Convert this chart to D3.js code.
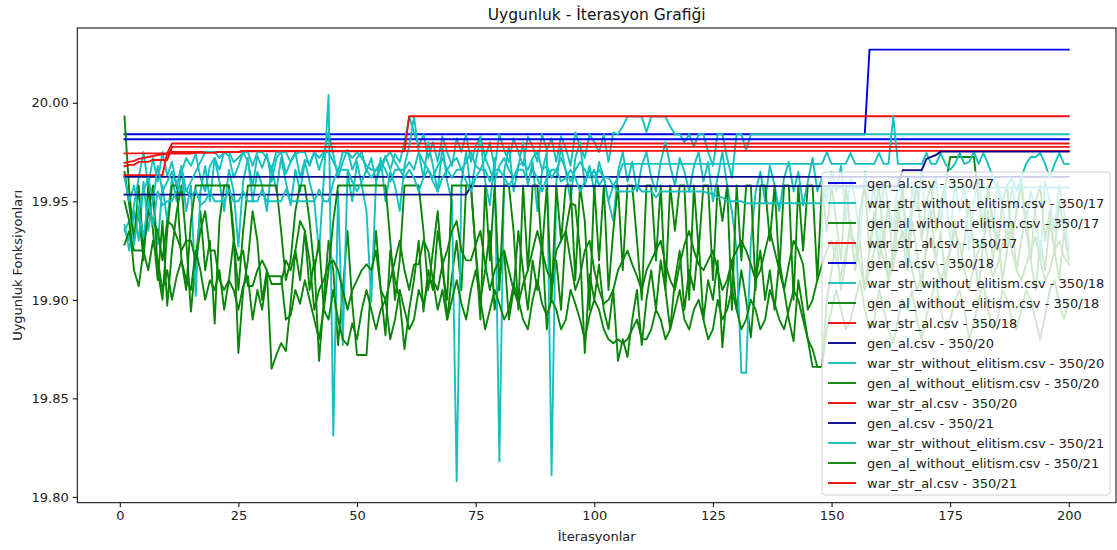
<!DOCTYPE html>
<html>
<head>
<meta charset="utf-8">
<script src="https://cdn.jsdelivr.net/npm/d3@7"></script>
<style>
  html, body { margin: 0; padding: 0; background: #fff; overflow: hidden; }
  svg { display: block; font-family: "DejaVu Sans", sans-serif; }
</style>
</head>
<body>
<div id="chart"></div>
<script>
// step series as [value, count] runs
const genAl17Runs = [[19.984, 157], [20.027, 43]];
const genAl18Runs = [[19.9815, 200]];
const genAl20Runs = [[19.9624, 200]];
const genAl21Runs = [[19.9534, 73], [19.9577, 91], [19.9658, 5], [19.9715, 1], [19.9725, 1], [19.9735, 1], [19.9752, 28]];

const warStrAl17Runs = [[19.9743, 10], [19.9793, 190]];
const warStrAl18Runs = [[19.9632, 9], [19.9745, 1], [19.9750, 15], [19.9754, 35], [19.9932, 140]];
const warStrAl20Runs = [[19.9695, 1], [19.9700, 1], [19.9705, 1], [19.9715, 1], [19.9720, 1], [19.9725, 1], [19.9730, 1],
  [19.9735, 1], [19.9738, 1], [19.9740, 1], [19.9742, 5], [19.9746, 5], [19.9750, 5], [19.9756, 175]];
const warStrAl21Runs = [[19.9678, 1], [19.9685, 2], [19.9700, 3], [19.9710, 4], [19.9776, 190]];

const warStrWo17 = [
  19.936,19.930,19.948,19.962,19.975,19.958,19.972,19.960,19.975,19.963,
  19.970,19.958,19.965,19.972,19.968,19.974,19.962,19.955,19.968,19.972,
  19.966,19.975,19.973,19.962,19.968,19.975,19.970,19.958,19.973,19.967,
  19.974,19.960,19.972,19.975,19.964,19.970,19.975,19.962,19.971,19.969,
  19.975,19.966,19.974,19.985,19.974,19.962,19.970,19.976,19.966,19.972,
  19.975,19.965,19.972,19.960,19.968,19.973,19.966,19.974,19.970,19.980,
  19.993,19.985,19.978,19.984,19.972,19.980,19.970,19.983,19.975,19.968,
  19.982,19.975,19.984,19.970,19.978,19.983,19.972,19.980,19.967,19.984,
  19.976,19.970,19.982,19.975,19.968,19.983,19.978,19.970,19.984,19.976,
  19.982,19.970,19.983,19.977,19.968,19.985,19.978,19.972,19.984,19.980,
  19.975,19.984,19.970,19.985,19.984,19.988,19.993,19.993,19.993,19.993,
  19.985,19.993,19.993,19.993,19.993,19.988,19.984,19.984,19.980,19.984,
  19.978,19.984,19.984,19.975,19.968,19.984,19.984,19.972,19.962,19.984,
  19.984,19.976,19.984,19.984,19.984,19.984,19.984,19.984,19.984,19.984,
  19.984,19.984,19.984,19.984,19.984,19.984,19.984,19.984,19.984,19.984,
  19.984,19.984,19.984,19.984,19.984,19.984,19.984,19.984,19.984,19.984,
  19.984,19.984,19.984,19.984,19.984,19.984,19.984,19.984,19.984,19.984,
  19.984,19.984,19.984,19.984,19.984,19.984,19.984,19.984,19.984,19.984,
  19.984,19.984,19.984,19.984,19.984,19.984,19.984,19.984,19.984,19.984,
  19.984,19.984,19.984,19.984,19.984,19.984,19.984,19.984,19.984,19.984
];

const warStrWo18 = [
  19.938,19.925,19.945,19.930,19.960,19.935,19.952,19.928,19.958,19.940,
  19.962,19.950,19.966,19.945,19.958,19.902,19.955,19.968,19.950,19.972,
  19.960,19.945,19.966,19.955,19.927,19.960,19.972,19.950,19.965,19.958,
  19.945,19.968,19.955,19.972,19.960,19.948,19.966,19.955,19.970,19.960,
  19.950,19.924,19.962,20.004,19.831,19.955,19.877,19.965,19.950,19.970,
  19.958,19.945,19.899,19.960,19.972,19.950,19.965,19.958,19.945,19.968,
  19.978,19.993,19.975,19.962,19.980,19.968,19.955,19.978,19.960,19.950,
  19.808,19.960,19.975,19.955,19.970,19.982,19.960,19.948,19.972,19.818,
  19.965,19.978,19.955,19.968,19.980,19.958,19.970,19.945,19.965,19.975,
  19.811,19.960,19.978,19.965,19.950,19.972,19.980,19.958,19.968,19.955,
  19.970,19.962,19.950,19.940,19.965,19.975,19.960,19.970,19.955,19.968,
  19.975,19.962,19.955,19.970,19.980,19.968,19.958,19.972,19.965,19.955,
  19.968,19.975,19.960,19.970,19.950,19.962,19.975,19.958,19.945,19.925,
  19.863,19.863,19.930,19.955,19.965,19.950,19.968,19.958,19.945,19.962,
  19.970,19.955,19.965,19.948,19.960,19.972,19.955,19.962,19.950,19.965,
  19.955,19.968,19.940,19.962,19.950,19.930,19.965,19.945,19.958,19.925,
  19.960,19.948,19.935,19.962,19.950,19.920,19.958,19.945,19.965,19.935,
  19.950,19.962,19.940,19.955,19.930,19.960,19.945,19.958,19.925,19.950,
  19.962,19.940,19.955,19.935,19.960,19.948,19.930,19.958,19.945,19.962,
  19.938,19.955,19.945,19.920,19.960,19.950,19.935,19.958,19.945,19.925
];

const warStrWo20 = [
  19.962,19.950,19.958,19.945,19.955,19.962,19.950,19.968,19.955,19.960,
  19.965,19.958,19.968,19.955,19.960,19.965,19.970,19.975,19.975,19.975,
  19.972,19.975,19.975,19.970,19.972,19.975,19.975,19.968,19.975,19.975,
  19.972,19.966,19.975,19.975,19.975,19.970,19.974,19.975,19.975,19.968,
  19.975,19.972,19.975,19.975,19.970,19.965,19.975,19.975,19.972,19.975,
  19.972,19.968,19.966,19.966,19.966,19.972,19.975,19.970,19.966,19.966,
  19.970,19.966,19.975,19.970,19.966,19.962,19.968,19.972,19.966,19.970,
  19.972,19.966,19.970,19.975,19.968,19.966,19.972,19.966,19.960,19.968,
  19.972,19.966,19.962,19.968,19.970,19.966,19.972,19.975,19.966,19.968,
  19.962,19.966,19.972,19.966,19.960,19.966,19.970,19.966,19.962,19.966,
  19.958,19.962,19.950,19.958,19.962,19.969,19.969,19.969,19.969,19.969,
  19.969,19.969,19.969,19.969,19.969,19.969,19.969,19.969,19.969,19.969,
  19.969,19.969,19.969,19.969,19.969,19.969,19.969,19.969,19.969,19.969,
  19.969,19.969,19.969,19.969,19.969,19.969,19.969,19.969,19.969,19.969,
  19.969,19.969,19.969,19.969,19.969,19.969,19.969,19.969,19.975,19.969,
  19.969,19.969,19.969,19.9745,19.969,19.969,19.969,19.969,19.969,19.9745,
  19.969,19.969,19.993,19.969,19.969,19.969,19.969,19.969,19.969,19.9745,
  19.969,19.969,19.9745,19.969,19.966,19.969,19.9745,19.969,19.970,19.975,
  19.969,19.9745,19.969,19.962,19.955,19.950,19.958,19.962,19.955,19.962,
  19.969,19.9725,19.9725,19.9745,19.969,19.962,19.969,19.9745,19.969,19.969
];

const warStrWo21 = [
  19.935,19.940,19.928,19.945,19.932,19.950,19.938,19.955,19.948,19.950,
  19.950,19.956,19.956,19.956,19.952,19.956,19.948,19.950,19.955,19.950,
  19.950,19.950,19.956,19.950,19.950,19.955,19.950,19.950,19.950,19.956,
  19.950,19.950,19.950,19.950,19.956,19.950,19.950,19.950,19.950,19.950,
  19.950,19.956,19.950,19.950,19.960,19.966,19.966,19.966,19.960,19.955,
  19.960,19.966,19.962,19.966,19.970,19.966,19.960,19.966,19.966,19.962,
  19.966,19.962,19.955,19.962,19.966,19.960,19.955,19.962,19.966,19.962,
  19.966,19.966,19.960,19.955,19.962,19.966,19.966,19.960,19.966,19.966,
  19.962,19.958,19.962,19.966,19.966,19.960,19.966,19.962,19.955,19.962,
  19.966,19.966,19.960,19.962,19.966,19.962,19.955,19.960,19.966,19.962,
  19.966,19.962,19.962,19.958,19.955,19.955,19.955,19.955,19.958,19.955,
  19.955,19.955,19.952,19.955,19.955,19.955,19.955,19.955,19.955,19.955,
  19.955,19.955,19.955,19.954,19.954,19.952,19.952,19.950,19.950,19.950,
  19.950,19.949,19.949,19.949,19.949,19.949,19.949,19.949,19.949,19.949,
  19.949,19.949,19.949,19.949,19.949,19.949,19.949,19.949,19.957,19.957,
  19.957,19.957,19.957,19.957,19.957,19.957,19.957,19.957,19.957,19.957,
  19.957,19.957,19.957,19.957,19.957,19.957,19.957,19.957,19.957,19.957,
  19.957,19.957,19.957,19.957,19.957,19.957,19.957,19.957,19.957,19.957,
  19.957,19.957,19.957,19.957,19.957,19.957,19.957,19.957,19.957,19.957,
  19.957,19.957,19.957,19.957,19.957,19.957,19.957,19.957,19.957,19.957
];

const genAlWo17 = [
  19.993,19.955,19.930,19.945,19.920,19.958,19.935,19.910,19.940,19.897,
  19.925,19.945,19.958,19.930,19.894,19.920,19.945,19.915,19.930,19.888,
  19.940,19.958,19.958,19.935,19.873,19.905,19.920,19.945,19.930,19.900,
  19.915,19.865,19.872,19.878,19.874,19.898,19.925,19.910,19.935,19.905,
  19.920,19.869,19.900,19.930,19.915,19.877,19.905,19.935,19.898,19.872,
  19.872,19.872,19.910,19.935,19.905,19.882,19.925,19.910,19.900,19.875,
  19.895,19.910,19.930,19.894,19.915,19.905,19.935,19.920,19.890,19.912,
  19.930,19.905,19.958,19.958,19.925,19.900,19.915,19.935,19.895,19.910,
  19.925,19.890,19.905,19.935,19.915,19.895,19.920,19.905,19.930,19.885,
  19.905,19.920,19.895,19.935,19.949,19.948,19.925,19.873,19.913,19.900,
  19.918,19.895,19.885,19.905,19.869,19.880,19.871,19.890,19.905,19.877,
  19.900,19.915,19.895,19.920,19.905,19.885,19.910,19.925,19.895,19.915,
  19.905,19.930,19.890,19.910,19.900,19.920,19.876,19.905,19.920,19.895,
  19.915,19.900,19.881,19.910,19.925,19.900,19.915,19.895,19.920,19.905,
  19.890,19.879,19.910,19.895,19.880,19.866,19.866,19.866,19.900,19.915,
  19.930,19.905,19.920,19.940,19.915,19.930,19.905,19.925,19.945,19.920,
  19.935,19.910,19.925,19.950,19.930,19.915,19.940,19.925,19.905,19.930,
  19.945,19.920,19.935,19.910,19.925,19.940,19.915,19.930,19.950,19.925,
  19.905,19.930,19.945,19.920,19.935,19.910,19.925,19.940,19.915,19.930,
  19.945,19.920,19.905,19.930,19.915,19.940,19.925,19.910,19.935,19.920
];

const genAlWo18 = [
  19.965,19.948,19.930,19.958,19.925,19.945,19.958,19.915,19.900,19.935,
  19.958,19.958,19.920,19.905,19.940,19.958,19.958,19.958,19.958,19.958,
  19.958,19.958,19.958,19.930,19.905,19.935,19.958,19.958,19.958,19.958,
  19.958,19.958,19.958,19.935,19.910,19.920,19.945,19.958,19.958,19.940,
  19.915,19.930,19.895,19.915,19.940,19.958,19.958,19.958,19.958,19.958,
  19.958,19.958,19.958,19.958,19.958,19.958,19.930,19.900,19.920,19.958,
  19.958,19.958,19.958,19.935,19.905,19.925,19.945,19.915,19.900,19.958,
  19.958,19.958,19.958,19.958,19.925,19.890,19.958,19.920,19.958,19.905,
  19.958,19.958,19.935,19.895,19.958,19.915,19.958,19.958,19.925,19.958,
  19.900,19.958,19.930,19.958,19.958,19.910,19.958,19.940,19.895,19.958,
  19.920,19.958,19.905,19.935,19.958,19.915,19.958,19.958,19.930,19.900,
  19.958,19.958,19.920,19.958,19.905,19.958,19.935,19.958,19.958,19.900,
  19.958,19.925,19.958,19.958,19.910,19.958,19.940,19.958,19.895,19.958,
  19.920,19.958,19.958,19.905,19.958,19.958,19.930,19.958,19.915,19.958,
  19.958,19.900,19.958,19.925,19.958,19.958,19.910,19.958,19.935,19.958,
  19.940,19.920,19.958,19.935,19.915,19.945,19.958,19.925,19.940,19.958,
  19.930,19.950,19.915,19.940,19.958,19.925,19.945,19.958,19.930,19.950,
  19.958,19.935,19.950,19.958,19.9725,19.9725,19.9725,19.9725,19.9725,19.9725,
  19.950,19.935,19.958,19.940,19.925,19.950,19.958,19.930,19.945,19.958,
  19.935,19.920,19.950,19.958,19.930,19.945,19.925,19.950,19.935,19.940
];

const genAlWo20 = [
  19.928,19.935,19.925,19.925,19.925,19.945,19.940,19.935,19.920,19.940,
  19.938,19.932,19.925,19.930,19.930,19.920,19.935,19.945,19.925,19.925,
  19.910,19.905,19.910,19.930,19.920,19.925,19.907,19.907,19.915,19.920,
  19.915,19.908,19.908,19.908,19.920,19.915,19.925,19.940,19.935,19.920,
  19.895,19.905,19.910,19.918,19.920,19.915,19.905,19.895,19.905,19.910,
  19.915,19.918,19.915,19.925,19.905,19.900,19.910,19.920,19.930,19.915,
  19.905,19.918,19.918,19.930,19.925,19.910,19.905,19.918,19.925,19.935,
  19.940,19.925,19.920,19.920,19.928,19.935,19.918,19.905,19.915,19.920,
  19.925,19.915,19.905,19.898,19.908,19.915,19.925,19.935,19.925,19.915,
  19.910,19.925,19.930,19.935,19.920,19.905,19.912,19.925,19.930,19.915,
  19.905,19.898,19.900,19.905,19.915,19.920,19.925,19.918,19.912,19.905,
  19.915,19.920,19.925,19.930,19.918,19.910,19.905,19.918,19.928,19.935,
  19.925,19.918,19.915,19.920,19.925,19.915,19.905,19.910,19.920,19.925,
  19.930,19.925,19.918,19.910,19.915,19.925,19.935,19.925,19.915,19.905,
  19.918,19.930,19.925,19.918,19.895,19.900,19.910,19.918,19.925,19.930,
  19.920,19.912,19.925,19.935,19.928,19.918,19.905,19.915,19.925,19.930,
  19.920,19.910,19.918,19.928,19.935,19.925,19.915,19.905,19.912,19.925,
  19.932,19.920,19.910,19.918,19.925,19.935,19.928,19.915,19.905,19.918,
  19.925,19.930,19.920,19.912,19.918,19.928,19.935,19.925,19.915,19.910,
  19.918,19.925,19.932,19.920,19.910,19.915,19.925,19.930,19.922,19.918
];

const genAlWo21 = [
  19.950,19.940,19.915,19.907,19.925,19.915,19.930,19.920,19.905,19.915,
  19.900,19.912,19.920,19.910,19.905,19.925,19.915,19.900,19.910,19.905,
  19.915,19.895,19.910,19.905,19.895,19.907,19.912,19.890,19.905,19.895,
  19.912,19.912,19.912,19.912,19.890,19.892,19.905,19.898,19.910,19.900,
  19.890,19.880,19.895,19.890,19.905,19.890,19.880,19.877,19.888,19.880,
  19.895,19.905,19.895,19.885,19.895,19.900,19.880,19.890,19.905,19.895,
  19.885,19.890,19.905,19.898,19.908,19.910,19.895,19.905,19.890,19.900,
  19.910,19.898,19.890,19.905,19.915,19.900,19.885,19.895,19.905,19.898,
  19.890,19.895,19.908,19.900,19.890,19.885,19.900,19.910,19.898,19.892,
  19.900,19.895,19.885,19.890,19.905,19.898,19.890,19.880,19.892,19.900,
  19.895,19.885,19.880,19.878,19.880,19.878,19.880,19.885,19.890,19.880,
  19.880,19.885,19.895,19.890,19.880,19.885,19.895,19.905,19.890,19.885,
  19.895,19.900,19.890,19.880,19.885,19.900,19.890,19.895,19.905,19.895,
  19.885,19.890,19.900,19.895,19.885,19.890,19.905,19.898,19.890,19.885,
  19.895,19.905,19.900,19.890,19.880,19.875,19.866,19.866,19.885,19.895,
  19.905,19.895,19.885,19.890,19.900,19.910,19.895,19.885,19.890,19.905,
  19.895,19.885,19.878,19.890,19.900,19.895,19.905,19.890,19.880,19.892,
  19.900,19.910,19.895,19.885,19.890,19.900,19.905,19.895,19.880,19.888,
  19.900,19.908,19.895,19.885,19.890,19.905,19.900,19.890,19.885,19.895,
  19.905,19.900,19.890,19.880,19.892,19.905,19.910,19.898,19.890,19.900
];

const xTicks = [0, 25, 50, 75, 100, 125, 150, 175, 200];
const yTicks = [19.80, 19.85, 19.90, 19.95, 20.00];

const expandRuns = runs => runs.flatMap(([v, n]) => Array.from({ length: n }, () => v));

const colors = { b: '#0000e6', nb: '#0a0a90', c: '#17bfbf', g: '#0a850a', r: '#f01010' };

// matplotlib plotting order (legend order)
const series = [
  { label: 'gen_al.csv - 350/17', values: expandRuns(genAl17Runs), color: colors.b },
  { label: 'war_str_without_elitism.csv - 350/17', values: warStrWo17, color: colors.c },
  { label: 'gen_al_without_elitism.csv - 350/17', values: genAlWo17, color: colors.g },
  { label: 'war_str_al.csv - 350/17', values: expandRuns(warStrAl17Runs), color: colors.r },
  { label: 'gen_al.csv - 350/18', values: expandRuns(genAl18Runs), color: colors.b },
  { label: 'war_str_without_elitism.csv - 350/18', values: warStrWo18, color: colors.c },
  { label: 'gen_al_without_elitism.csv - 350/18', values: genAlWo18, color: colors.g },
  { label: 'war_str_al.csv - 350/18', values: expandRuns(warStrAl18Runs), color: colors.r },
  { label: 'gen_al.csv - 350/20', values: expandRuns(genAl20Runs), color: colors.nb },
  { label: 'war_str_without_elitism.csv - 350/20', values: warStrWo20, color: colors.c },
  { label: 'gen_al_without_elitism.csv - 350/20', values: genAlWo20, color: colors.g },
  { label: 'war_str_al.csv - 350/20', values: expandRuns(warStrAl20Runs), color: colors.r },
  { label: 'gen_al.csv - 350/21', values: expandRuns(genAl21Runs), color: colors.nb },
  { label: 'war_str_without_elitism.csv - 350/21', values: warStrWo21, color: colors.c },
  { label: 'gen_al_without_elitism.csv - 350/21', values: genAlWo21, color: colors.g },
  { label: 'war_str_al.csv - 350/21', values: expandRuns(warStrAl21Runs), color: colors.r }
];

const width = 1117;
const height = 550;
const margin = { top: 28, right: 1, bottom: 47.3, left: 77.3 };
const innerWidth = width - margin.left - margin.right;
const innerHeight = height - margin.top - margin.bottom;

const svg = d3.select('#chart').append('svg')
  .attr('width', width)
  .attr('height', height)
  .attr('viewBox', `0 0 ${width} ${height}`);

// 5% padding like matplotlib autoscale
const allY = series.flatMap(s => s.values);
const yMin = d3.min(allY), yMax = d3.max(allY);
const yPad = (yMax - yMin) * 0.05;
const xPad = (200 - 1) * 0.05;

const x = d3.scaleLinear().domain([1 - xPad, 200 + xPad]).range([margin.left, margin.left + innerWidth]);
const y = d3.scaleLinear().domain([yMin - yPad, yMax + yPad]).range([margin.top + innerHeight, margin.top]);

svg.append('clipPath').attr('id', 'clip')
  .append('rect')
  .attr('x', margin.left).attr('y', margin.top)
  .attr('width', innerWidth).attr('height', innerHeight);

const line = d3.line()
  .x((d, i) => x(i + 1))
  .y(d => y(d));

svg.append('g').attr('clip-path', 'url(#clip)')
  .selectAll('path')
  .data(series)
  .enter()
  .append('path')
  .attr('d', d => line(d.values))
  .attr('fill', 'none')
  .attr('stroke', d => d.color)
  .attr('stroke-width', 1.9)
  .attr('stroke-linejoin', 'round')
  .attr('stroke-linecap', 'square');

const xAxis = svg.append('g')
  .attr('transform', `translate(0,${margin.top + innerHeight})`)
  .call(d3.axisBottom(x).tickValues(xTicks).tickSize(4.5).tickPadding(4).tickFormat(d3.format('d')));

const yAxis = svg.append('g')
  .attr('transform', `translate(${margin.left},0)`)
  .call(d3.axisLeft(y).tickValues(yTicks).tickSize(4.5).tickPadding(4).tickFormat(d3.format('.2f')));

[xAxis, yAxis].forEach(ax => {
  ax.select('.domain').remove();
  ax.selectAll('line').attr('stroke', '#000').attr('stroke-width', 1);
  ax.selectAll('text').attr('font-size', 13).attr('fill', '#222')
    .attr('font-family', '"DejaVu Sans", sans-serif');
});

svg.append('rect')
  .attr('x', margin.left)
  .attr('y', margin.top)
  .attr('width', innerWidth)
  .attr('height', innerHeight)
  .attr('fill', 'none')
  .attr('stroke', '#000')
  .attr('stroke-width', 1);

svg.append('text')
  .attr('x', margin.left + innerWidth / 2)
  .attr('y', 20)
  .attr('text-anchor', 'middle')
  .attr('font-size', 15.5)
  .attr('fill', '#111')
  .text('Uygunluk - İterasyon Grafiği');

svg.append('text')
  .attr('x', margin.left + innerWidth / 2)
  .attr('y', 541)
  .attr('text-anchor', 'middle')
  .attr('font-size', 13)
  .attr('fill', '#222')
  .text('İterasyonlar');

svg.append('text')
  .attr('transform', 'rotate(-90)')
  .attr('x', -(margin.top + innerHeight / 2))
  .attr('y', 22)
  .attr('text-anchor', 'middle')
  .attr('font-size', 13)
  .attr('fill', '#222')
  .text('Uygunluk Fonksiyonları');

// legend, lower right with translucent frame
const legendX = 822, legendY = 172;
svg.append('rect')
  .attr('x', legendX)
  .attr('y', legendY)
  .attr('width', 288)
  .attr('height', 323)
  .attr('rx', 3)
  .attr('fill', '#fff')
  .attr('fill-opacity', 0.8)
  .attr('stroke', '#d0d0d0')
  .attr('stroke-width', 1);

svg.selectAll('line.legend-handle')
  .data(series)
  .enter()
  .append('line')
  .attr('class', 'legend-handle')
  .attr('x1', legendX + 6).attr('x2', legendX + 34)
  .attr('y1', (d, i) => legendY + 11 + i * 20)
  .attr('y2', (d, i) => legendY + 11 + i * 20)
  .attr('stroke', d => d.color)
  .attr('stroke-width', 1.9);

svg.selectAll('text.legend-label')
  .data(series)
  .enter()
  .append('text')
  .attr('class', 'legend-label')
  .attr('x', legendX + 45)
  .attr('y', (d, i) => legendY + 15.5 + i * 20)
  .attr('font-size', 13)
  .attr('fill', '#222')
  .text(d => d.label);
</script>
</body>
</html>
